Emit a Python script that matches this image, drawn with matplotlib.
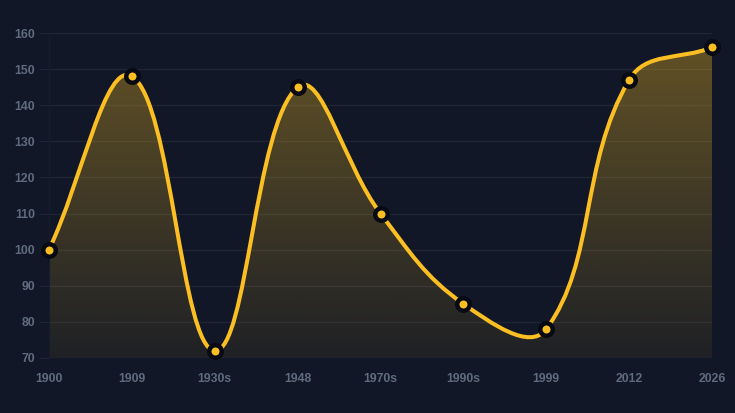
import numpy as np
import matplotlib
matplotlib.use('Agg')
import matplotlib.pyplot as plt
from matplotlib.path import Path
from matplotlib.patches import PathPatch

labels = ['1900', '1909', '1930s', '1948', '1970s', '1990s', '1999', '2012', '2026']
values = [100, 148, 72, 145, 110, 85, 78, 147, 156]
y_ticks = [70, 80, 90, 100, 110, 120, 130, 140, 150, 160]

bg = '#111726'
grid_col = '#1e2535'
text_col = '#5f6b7e'
line_col = '#fbbf24'

W, H = 735, 413
fig = plt.figure(figsize=(W / 100, H / 100), dpi=100, facecolor=bg)
ax = fig.add_axes([49 / W, 1 - 358 / H, (712 - 49) / W, (358 - 33) / H])
ax.set_facecolor(bg)

x = np.arange(len(values), dtype=float)
y = np.array(values, dtype=float)
ax.set_xlim(0, len(values) - 1)
ax.set_ylim(70, 160)

# spline like chart.js (tension 0.4), distances in pixel space
sx = (712 - 49) / (len(values) - 1)
sy = (358 - 33) / 90.0
px, py = x * sx, y * sy
t = 0.4
cp_prev, cp_next = [], []
for i in range(len(px)):
    p0 = (px[max(i - 1, 0)], py[max(i - 1, 0)])
    p1 = (px[i], py[i])
    p2 = (px[min(i + 1, len(px) - 1)], py[min(i + 1, len(px) - 1)])
    d01 = np.hypot(p1[0] - p0[0], p1[1] - p0[1])
    d12 = np.hypot(p2[0] - p1[0], p2[1] - p1[1])
    s01 = d01 / (d01 + d12)
    s12 = d12 / (d01 + d12)
    fa, fb = t * s01, t * s12
    cp_prev.append((p1[0] - fa * (p2[0] - p0[0]), p1[1] - fa * (p2[1] - p0[1])))
    cp_next.append((p1[0] + fb * (p2[0] - p0[0]), p1[1] + fb * (p2[1] - p0[1])))

verts = [(x[0], y[0])]
codes = [Path.MOVETO]
for i in range(len(px) - 1):
    verts += [(cp_next[i][0] / sx, cp_next[i][1] / sy),
              (cp_prev[i + 1][0] / sx, cp_prev[i + 1][1] / sy),
              (x[i + 1], y[i + 1])]
    codes += [Path.CURVE4] * 3

# gradient fill under the curve
fill_verts = verts + [(x[-1], 70), (x[0], 70), (x[0], y[0])]
fill_codes = codes + [Path.LINETO, Path.LINETO, Path.CLOSEPOLY]
clip = PathPatch(Path(fill_verts, fill_codes), facecolor='none', edgecolor='none')
ax.add_patch(clip)
grad = np.zeros((256, 1, 4))
rgb = matplotlib.colors.to_rgb(line_col)
grad[:, 0, 0], grad[:, 0, 1], grad[:, 0, 2] = rgb
grad[:, 0, 3] = np.linspace(0.36, 0.06, 256)
im = ax.imshow(grad, extent=[x[0], x[-1], 70, 160], origin='upper',
               aspect='auto', zorder=1)
im.set_clip_path(clip)

ax.add_patch(PathPatch(Path(verts, codes), facecolor='none', edgecolor=line_col,
                       lw=2.9, zorder=3, capstyle='round'))
ax.plot(x, y, 'o', ms=9, mfc=line_col, mec='#070a12', mew=3.2, zorder=4,
        clip_on=False)

ax.set_yticks(y_ticks)
ax.set_xticks(x)
ax.set_xticklabels(labels)
ax.grid(axis='y', color=grid_col, lw=1)
ax.set_axisbelow(True)
ax.tick_params(axis='y', length=7, color=grid_col, labelcolor=text_col,
               labelsize=8.8, pad=3)
ax.tick_params(axis='x', length=0, labelcolor=text_col, labelsize=8.8, pad=11)
for lab in ax.get_xticklabels() + ax.get_yticklabels():
    lab.set_fontweight('bold')
    lab.set_family('Liberation Sans')
for side in ['top', 'right', 'bottom']:
    ax.spines[side].set_visible(False)
ax.spines['left'].set_color('#161c2b')

fig.savefig('out.png', dpi=100, facecolor=bg)
